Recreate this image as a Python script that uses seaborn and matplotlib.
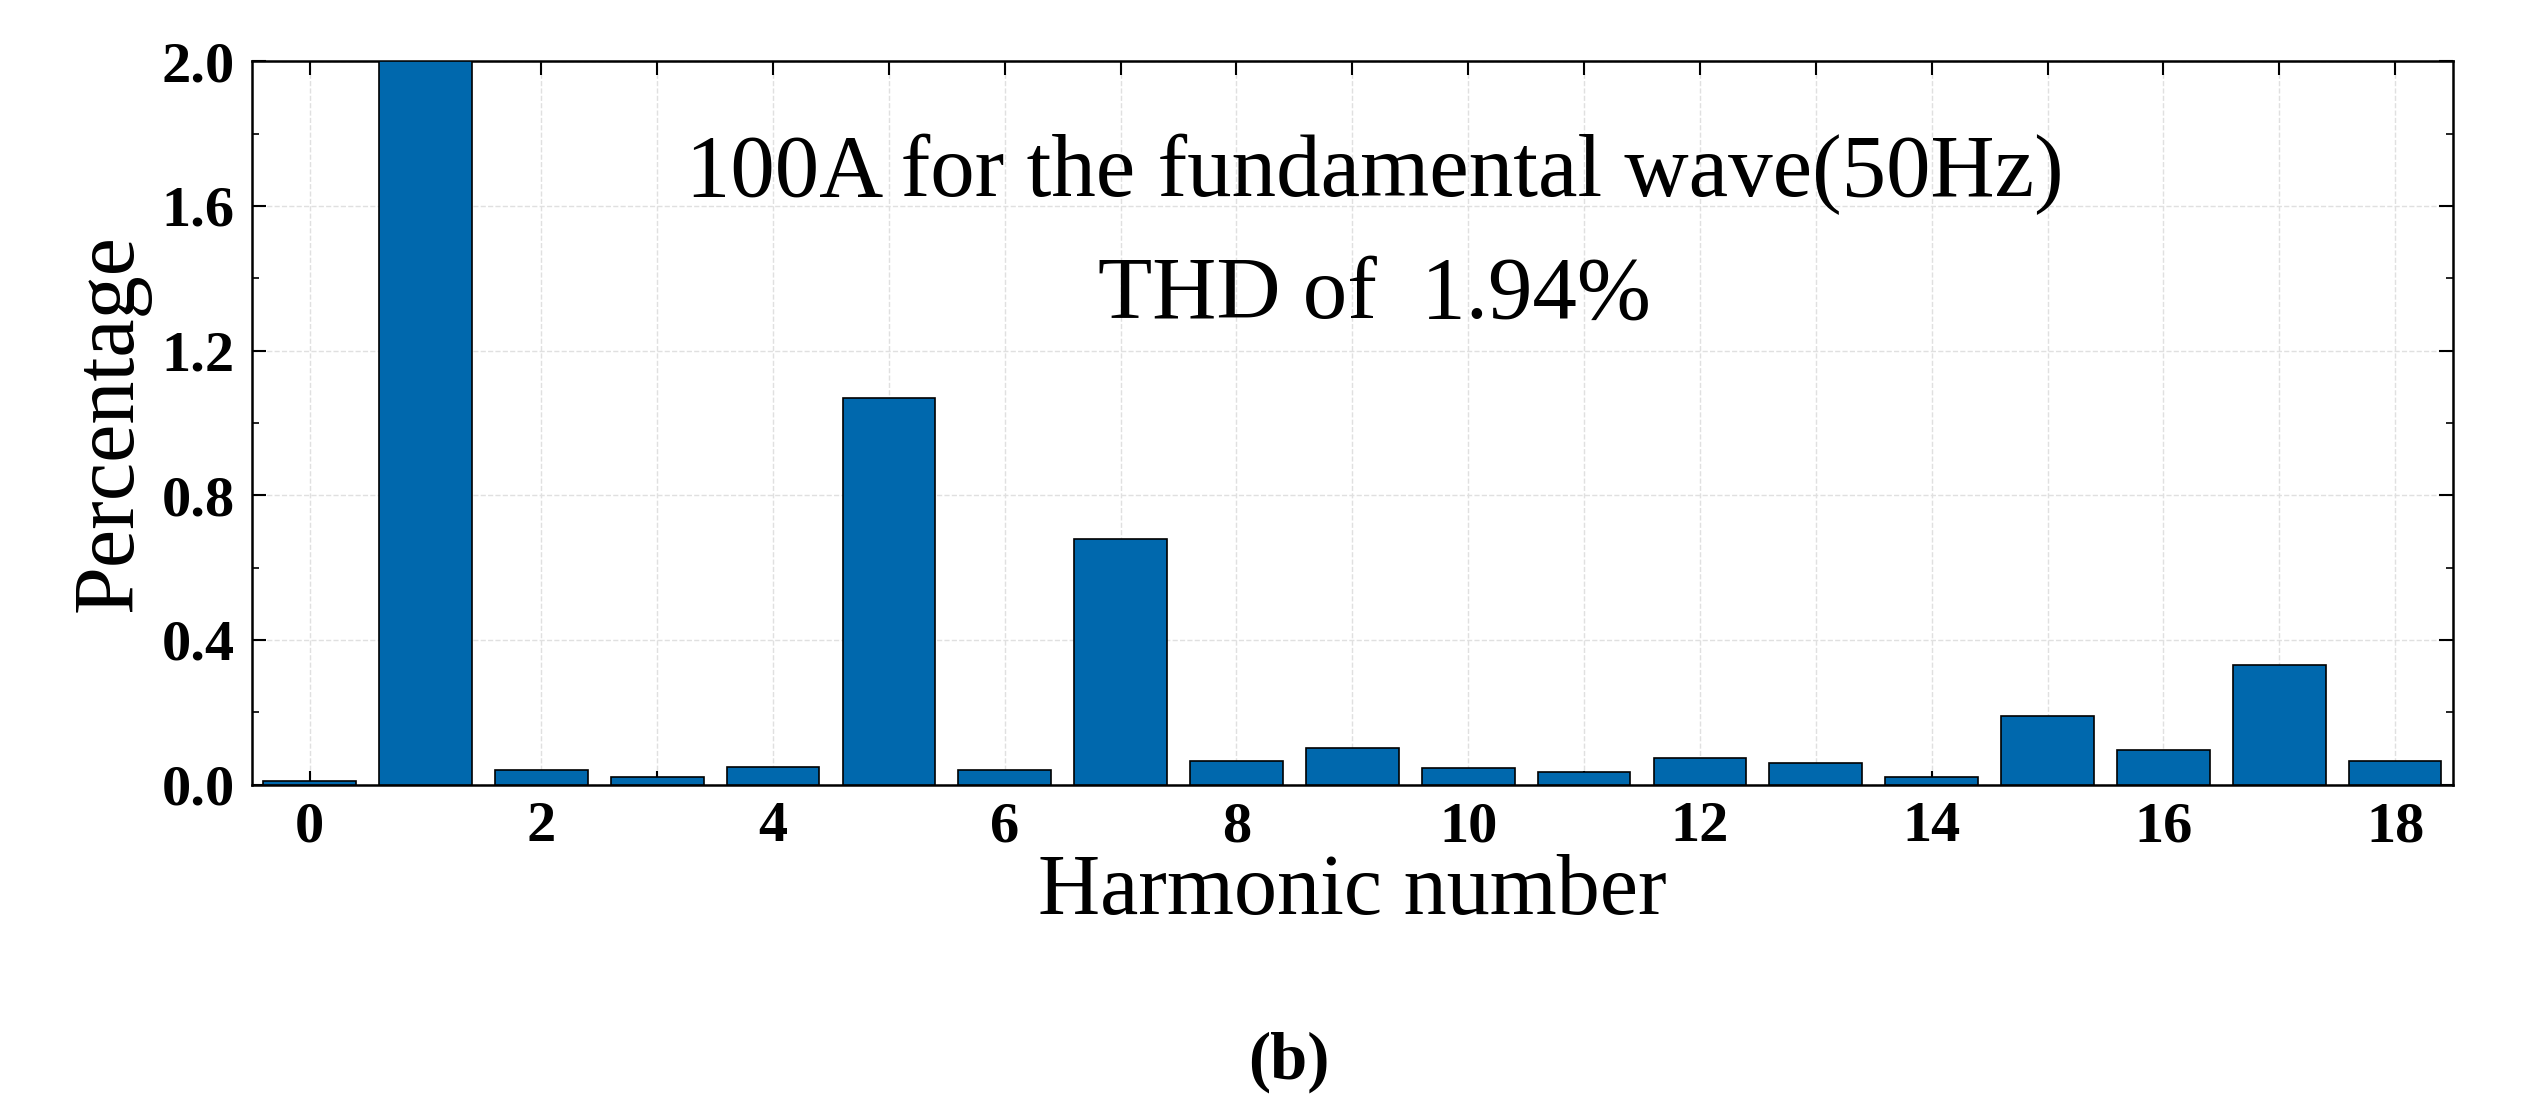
import matplotlib
matplotlib.use("Agg")
import matplotlib.pyplot as plt
import seaborn as sns
import pandas as pd
from matplotlib.ticker import MultipleLocator

harmonics = list(range(19))
percent = [0.01, 2.0, 0.04, 0.02, 0.05, 1.07, 0.04, 0.68, 0.065, 0.10, 0.045,
           0.035, 0.075, 0.06, 0.02, 0.19, 0.095, 0.33, 0.065]
xtick_labels = [str(h) if h % 2 == 0 else "" for h in harmonics]
yticks = [0.0, 0.4, 0.8, 1.2, 1.6, 2.0]

sns.set_theme(style="ticks")
plt.rcParams['font.family'] = ['Liberation Serif', 'DejaVu Serif']
for k in ['text.color', 'axes.labelcolor', 'xtick.color', 'ytick.color']:
    plt.rcParams[k] = 'black'

fig = plt.figure(figsize=(25.42, 11.13), dpi=100)
ax = fig.add_axes([0.099, 0.295, 0.866, 0.65])
df = pd.DataFrame({"h": harmonics, "p": percent})
sns.barplot(data=df, x="h", y="p", color="#0068AD", saturation=1, width=0.8,
            edgecolor="black", linewidth=1.2, ax=ax, zorder=3)
ax.set_xlim(-0.5, 18.5)
ax.set_ylim(0, 2.0)
ax.set_xticks(harmonics)
ax.set_xticklabels(xtick_labels, fontsize=42, fontweight="bold")
ax.set_yticks(yticks)
ax.set_yticklabels([f"{v:.1f}" for v in yticks], fontsize=42, fontweight="bold")
ax.yaxis.set_minor_locator(MultipleLocator(0.2))
ax.tick_params(which="both", direction="in", top=True, right=True)
ax.tick_params(which="major", length=10, width=1.5, pad=12)
ax.tick_params(which="minor", length=5, width=1.2)
ax.grid(True, linestyle="--", color="#e0e0e0", linewidth=1, zorder=0)
for s in ax.spines.values():
    s.set_linewidth(1.8)
    s.set_color("black")
ax.set_xlabel("Harmonic number", fontsize=62, labelpad=0)
ax.set_ylabel("Percentage", fontsize=62, labelpad=8)
ax.text(0.51, 0.843, "100A for the fundamental wave(50Hz)", transform=ax.transAxes,
        fontsize=64, ha="center", va="center")
ax.text(0.51, 0.675, "THD of  1.94%", transform=ax.transAxes,
        fontsize=64, ha="center", va="center")
fig.text(0.507, 0.046, "(b)", fontsize=48, fontweight="bold", ha="center", va="center")
fig.savefig("out.png", dpi=100, facecolor="white")
